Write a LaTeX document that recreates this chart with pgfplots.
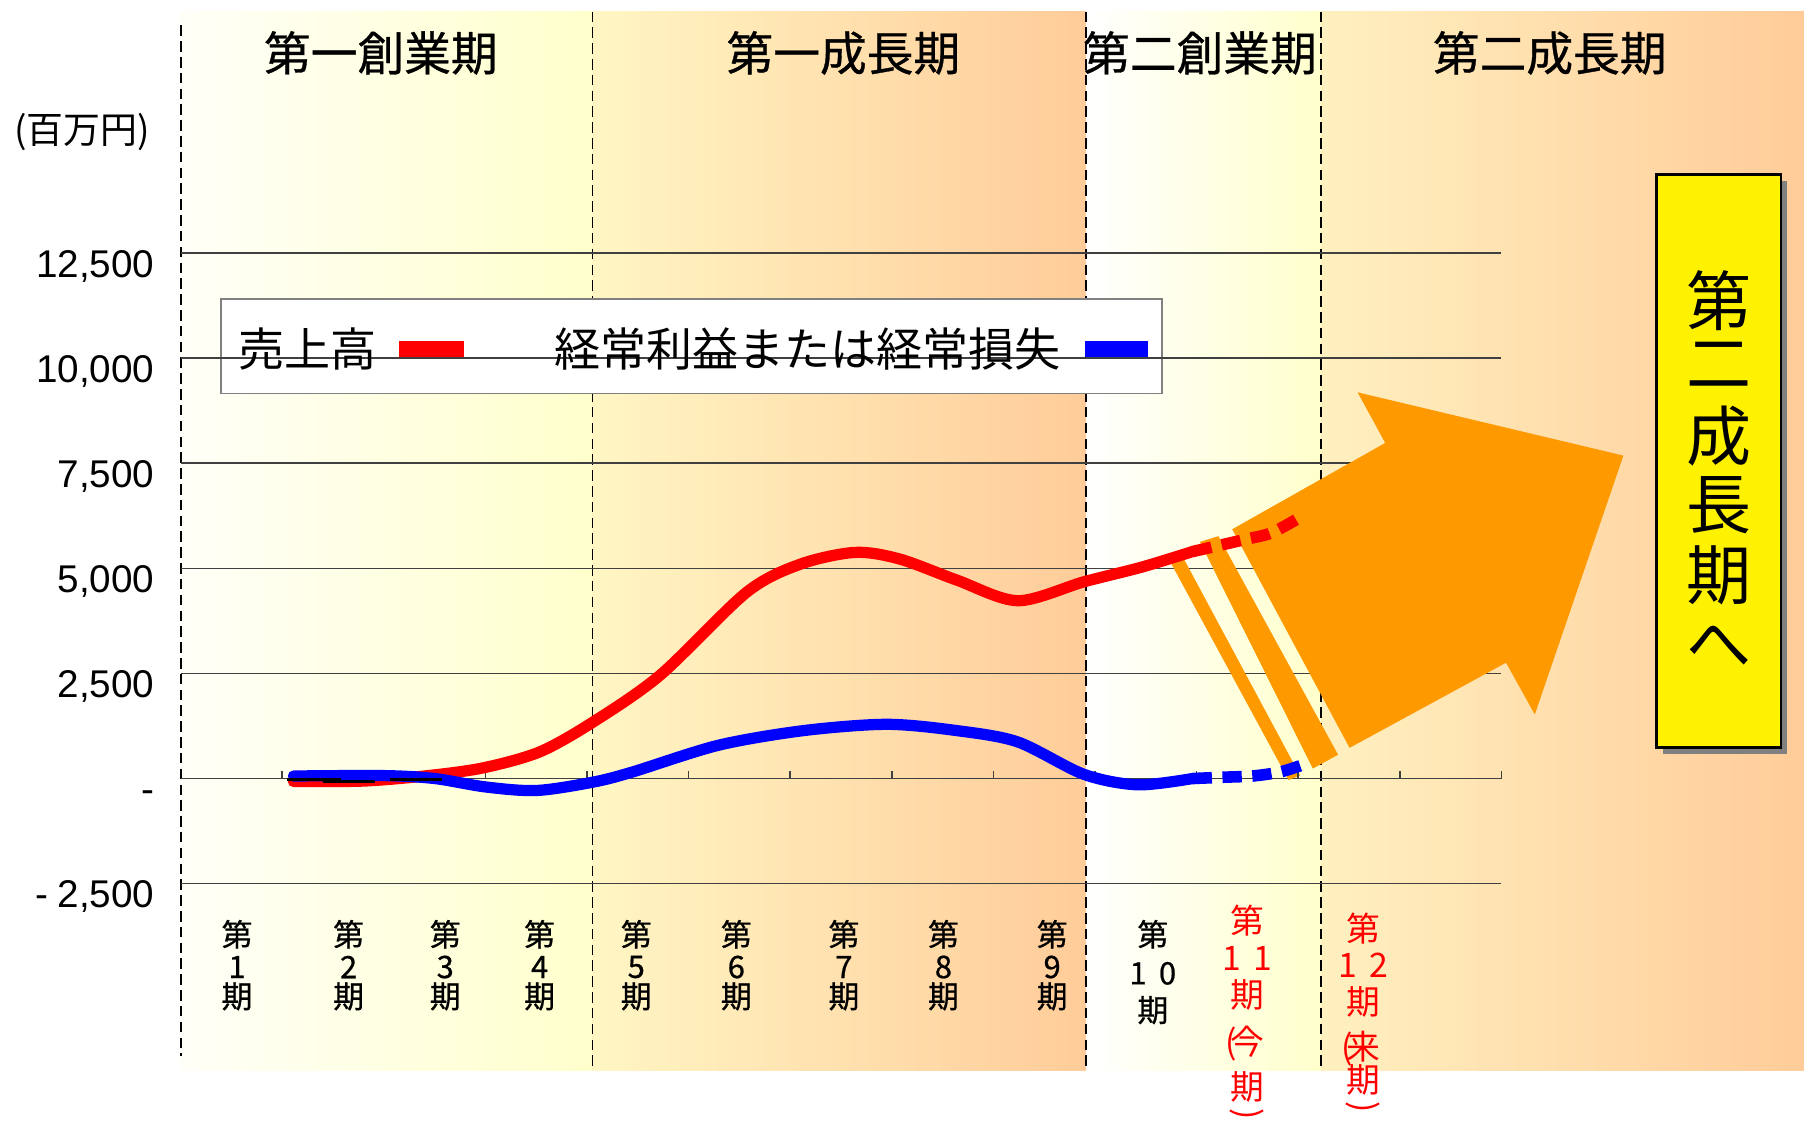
\documentclass[border=0pt]{standalone}
\usepackage{fontspec}
\setmainfont{Noto Sans CJK JP}
\newfontfamily\jpb{Noto Sans CJK JP}[FakeBold=0.7]
\newfontfamily\lib{Liberation Sans}
\usepackage{graphicx}
\usepackage{pgfplots}
\pgfplotsset{compat=1.18}
\definecolor{arrowor}{HTML}{FF9900}
\definecolor{pAl}{HTML}{FFFFF8}
\definecolor{pAr}{HTML}{FFFFCC}
\definecolor{pBl}{HTML}{FFF6C4}
\definecolor{pBr}{HTML}{FFCC99}
\definecolor{pDl}{HTML}{FFF0C0}
\definecolor{gridc}{HTML}{404040}
\begin{document}
\begin{tikzpicture}
\begin{scope}[x=0.11505mm,y=-0.11505mm]
\path[use as bounding box] (0,0) rectangle (1568,975.2);
\shade[left color=pAl,right color=pAr] (157,10) rectangle (515,930);
\shade[left color=pBl,right color=pBr] (515,10) rectangle (944,930);
\shade[left color=white,right color=pAr] (944,10) rectangle (1148,930);
\shade[left color=pDl,right color=pBr] (1148,10) rectangle (1568,930);
\begin{scope}[line width=0.55pt, dash pattern=on 3pt off 1.5pt]
\draw (157,22) -- (157,918);
\draw (515,10) -- (515,930);
\draw (944,10) -- (944,930);
\draw (1148,10) -- (1148,930);
\end{scope}
\filldraw[fill=white, draw=black!50, line width=0.5pt] (192,260) rectangle (1010,342);
\end{scope}
\begin{axis}[
  at={({157*0.11505mm},{-768*0.11505mm})}, anchor=south west,
  scale only axis, width=132.08mm, height=63.05mm,
  xmin=0, xmax=13, ymin=-2500, ymax=12500,
  clip=false,
  scaled y ticks=false,
  axis line style={draw=none},
  xtick=\empty,
  ytick={-2500,0,2500,5000,7500,10000,12500},
  yticklabels={{-\hspace{2.5pt}2,500},{-},{2,500},{5,000},{7,500},{10,000},{12,500}},
  major tick length=0pt,
  ymajorgrids,
  grid style={draw=gridc, line width=0.45pt},
  yticklabel style={font=\lib\fontsize{11}{13}\selectfont, anchor=base east, inner sep=0pt, xshift=-7.3pt, yshift=-6.8pt},
]
% orange arrow and stripes
\fill[arrowor] (axis cs:10.350,5930.7) -- (axis cs:11.856,7983.6) -- (axis cs:11.584,9188) -- (axis cs:14.200,7682.5) -- (axis cs:13.328,1523.7) -- (axis cs:13.045,2755.5) -- (axis cs:11.505,729.9) -- cycle;
\fill[arrowor] (axis cs:9.738,5164.2) -- (axis cs:9.863,5273.7) -- (axis cs:11.018,73) -- (axis cs:10.905,-36.5) -- cycle;
\fill[arrowor] (axis cs:10.033,5629.6) -- (axis cs:10.214,5766.4) -- (axis cs:11.392,565.7) -- (axis cs:11.143,237.2) -- cycle;
% ticks on zero line
\pgfplotsinvokeforeach{1,...,13}{\draw[gridc, line width=0.45pt] (axis cs:#1,0) -- (axis cs:#1,170);}
% 売上高
\addplot[red, line width=3.2pt, smooth, line cap=round] coordinates {
(1.11,-70) (1.8,-60) (2.4,60) (2.97,250) (3.53,630) (4.05,1330) (4.72,2460) (5.57,4430) (6.1,5100) (6.64,5380) (7.08,5220) (7.64,4720) (8.24,4230) (8.89,4680) (9.46,5030) (9.96,5400)};
\addplot[red, line width=3.3pt, smooth, dash pattern=on 5.5pt off 3pt] coordinates {
(9.96,5400) (10.47,5684) (10.74,5849) (11.05,6260)};
% 経常利益
\addplot[blue, line width=3.2pt, smooth, line cap=round] coordinates {
(1.11,60) (2.0,70) (2.5,0) (3.0,-200) (3.5,-285) (4.05,-90) (4.44,150) (5.29,790) (6.13,1140) (6.95,1290) (7.64,1140) (8.24,870) (8.89,100) (9.42,-150) (9.96,0)};
\addplot[blue, line width=3.3pt, smooth, dash pattern=on 5.5pt off 3pt] coordinates {
(9.96,0) (10.25,30) (10.55,60) (10.82,155) (11.05,330)};
\draw[black, line width=0.8pt] (axis cs:1.05,-20) -- (axis cs:1.58,-20);
\draw[black, line width=0.8pt] (axis cs:1.40,-70) -- (axis cs:1.91,-70);
\draw[black, line width=0.8pt] (axis cs:2.06,-20) -- (axis cs:2.57,-20);
\end{axis}
\begin{scope}[x=0.11505mm,y=-0.11505mm]
\tikzset{ttl/.style={font=\jpb\fontsize{13.3}{15}\selectfont, inner sep=0pt},
         leg/.style={font=\fontsize{13.1}{15}\selectfont, inner sep=0pt, anchor=west},
         xl/.style={font=\jpb\fontsize{8.8}{10}\selectfont, inner sep=0pt},
         xr/.style={font=\fontsize{9.6}{10}\selectfont, inner sep=0pt, text=red},
         yb/.style={font=\fontsize{18.5}{20}\selectfont, inner sep=0pt}}
\node[font=\fontsize{10.5}{12}\selectfont, anchor=west, inner sep=0pt] at (12,115) {(百万円)};
\node[ttl] at (331,46) {第一創業期};
\node[ttl] at (733,46) {第一成長期};
\node[ttl] at (1043,46) {第二創業期};
\node[ttl] at (1347,46) {第二成長期};
% legend
\node[leg] at (207,303) {売上高};
\fill[red] (347,296) rectangle (403,310);
\node[leg] at (481,303) {経常利益または経常損失};
\fill[blue] (943,296) rectangle (998,310);
% x labels
\foreach \xx/\dd in {206/1,303/2,387/3,469/4,553/5,640/6,733.5/7,820/8,914.5/9}{
  \node[xl] at (\xx,812) {第};
  \node[xl] at (\xx,840.5) {\dd};
  \node[xl] at (\xx,866) {期};
}
\node[xl] at (1002,812) {第};
\node[xl] at (1002,846) {1\hspace{3.5pt}0};
\node[xl] at (1002,878) {期};
\node[xr] at (1084,800) {第};
\node[xr] at (1084,833) {1\hspace{3.5pt}1};
\node[xr] at (1084,865) {期};
\node[xr] at (1084,907) {\llap{(\kern-1.8pt}今};
\node[xr] at (1084,945) {期};
\node[xr, rotate=-90] at (1084,968) {)};
\node[xr] at (1185,807) {第};
\node[xr] at (1185,839) {1\hspace{3.5pt}2};
\node[xr] at (1185,871) {期};
\node[xr] at (1185,911) {\llap{(\kern-1.8pt}来};
\node[xr] at (1185,939) {期};
\node[xr, rotate=-90] at (1185,962) {)};
% yellow box
\fill[black!50] (1445,157) rectangle (1553,655);
\filldraw[fill=yellow, draw=black, line width=0.8pt] (1440,152) rectangle (1548,650);
\node[yb] at (1494,261) {第};
\node[yb] at (1494,317) {二};
\node[yb] at (1494,379) {成};
\node[yb] at (1494,439) {長};
\node[yb] at (1494,500) {期};
\node[yb] at (1494,562) {へ};
\end{scope}
\end{tikzpicture}
\end{document}
